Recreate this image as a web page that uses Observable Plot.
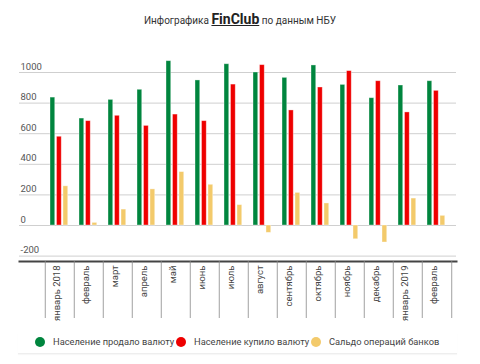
<!DOCTYPE html>
<html>
<head>
<meta charset="utf-8">
<script src="https://cdn.jsdelivr.net/npm/d3@7"></script>
<script src="https://cdn.jsdelivr.net/npm/@observablehq/plot@0.6"></script>
<style>
  body { margin: 0; background: #fff; font-family: Roboto, "Noto Sans", sans-serif; }
  #wrap { width: 480px; height: 364px; position: relative; overflow: hidden; }
  #title { height: 36px; text-align: center; font-size: 10px; color: #333; line-height: 38px; }
  #title b { font-size: 14px; text-decoration: underline; color: #222; }
  #chart svg { display: block; }
  #legend { position: absolute; top: 333px; left: 18px; width: 439px; height: 20px; border-bottom: 1px solid #eee; box-shadow: 0 1px 1px rgba(0,0,0,0.03); font-size: 9.3px; color: #444; }
  .item { position: absolute; top: 3px; display: flex; align-items: center; white-space: nowrap; }
  .dot { width: 10px; height: 10px; border-radius: 50%; margin-right: 8px; }
</style>
</head>
<body>
<div id="wrap">
  <div id="title">Инфографика <b>FinClub</b> по данным НБУ</div>
  <div id="chart"></div>
  <div id="legend"></div>
</div>
<script>
const months = ["январь 2018", "февраль", "март", "апрель", "май", "июнь", "июль", "август", "сентябрь", "октябрь", "ноябрь", "декабрь", "январь 2019", "февраль "];
const seriesNames = ["Население продало валюту", "Население купило валюту", "Сальдо операций банков"];
const sold =   [836, 699, 821, 887, 1074, 948, 1054, 1000, 965, 1046, 919, 832, 915, 943];
const bought = [580, 682, 717, 651, 725, 682, 921, 1048, 752, 902, 1009, 943, 739, 880];
const saldo =  [256, 17, 104, 236, 349, 266, 133, -48, 213, 144, -90, -111, 176, 63];
const colors = ["#00853e", "#ee0000", "#f3ca6b"];
const yTicks = [-200, 0, 200, 400, 600, 800, 1000];

const series = [sold, bought, saldo];
const rows = [];
series.forEach((vals, s) => vals.forEach((v, i) => rows.push({month: months[i], series: seriesNames[s], value: v})));

const W = 480, H = 290;
const x0 = 41.7, x1 = 454;
const bw = (x1 - x0) / months.length;
// per-series inset within each month band
const insets = [[5, bw - 10.2], [11.5, bw - 16.7], [18, bw - 23.2]];

const marks = [
  Plot.ruleY(yTicks, {stroke: "#cfcfcf", strokeWidth: 1}),
  ...seriesNames.map((name, s) => Plot.barY(rows.filter(d => d.series === name), {
    x: "month", y: "value", fill: colors[s],
    stroke: "#fff", strokeOpacity: 0.45, strokeWidth: 0.8,
    insetLeft: insets[s][0], insetRight: insets[s][1]
  })),
  Plot.text(yTicks, {y: d => d, text: d => String(d), frameAnchor: "left", textAnchor: "start", dy: -6, dx: 1, fontSize: 9.5, fill: "#555"}),
  Plot.frame({anchor: "bottom", stroke: "#444", strokeWidth: 2}),
  Plot.ruleX(months, {x: d => d, dx: -bw / 2, stroke: "#888", strokeWidth: 0.8, insetTop: 205, insetBottom: -57}),
  Plot.ruleX([months[months.length - 1]], {x: d => d, dx: bw / 2, stroke: "#888", strokeWidth: 0.8, insetTop: 205, insetBottom: -57}),
  Plot.text(months, {x: d => d, frameAnchor: "bottom", rotate: -90, textAnchor: "end", dy: 4, fontSize: 9.5, fill: "#444", text: d => d.trim()})
];

const chart = Plot.plot({
  width: W, height: H,
  marginLeft: 19, marginRight: 24, marginTop: 20, marginBottom: 65,
  style: {fontFamily: "Roboto, sans-serif", background: "#fff"},
  x: {type: "band", domain: months, range: [x0, x1], padding: 0, axis: null},
  y: {domain: [-200, 1100], range: [219.6, 20.7], axis: null},
  marks
});
document.getElementById("chart").appendChild(chart);

const legend = document.getElementById("legend");
const lx = [17, 158, 293];
seriesNames.forEach((name, s) => {
  const it = document.createElement("div");
  it.className = "item";
  it.style.left = lx[s] + "px";
  it.innerHTML = `<span class="dot" style="background:${colors[s]}"></span><span>${name}</span>`;
  legend.appendChild(it);
});
</script>
</body>
</html>
